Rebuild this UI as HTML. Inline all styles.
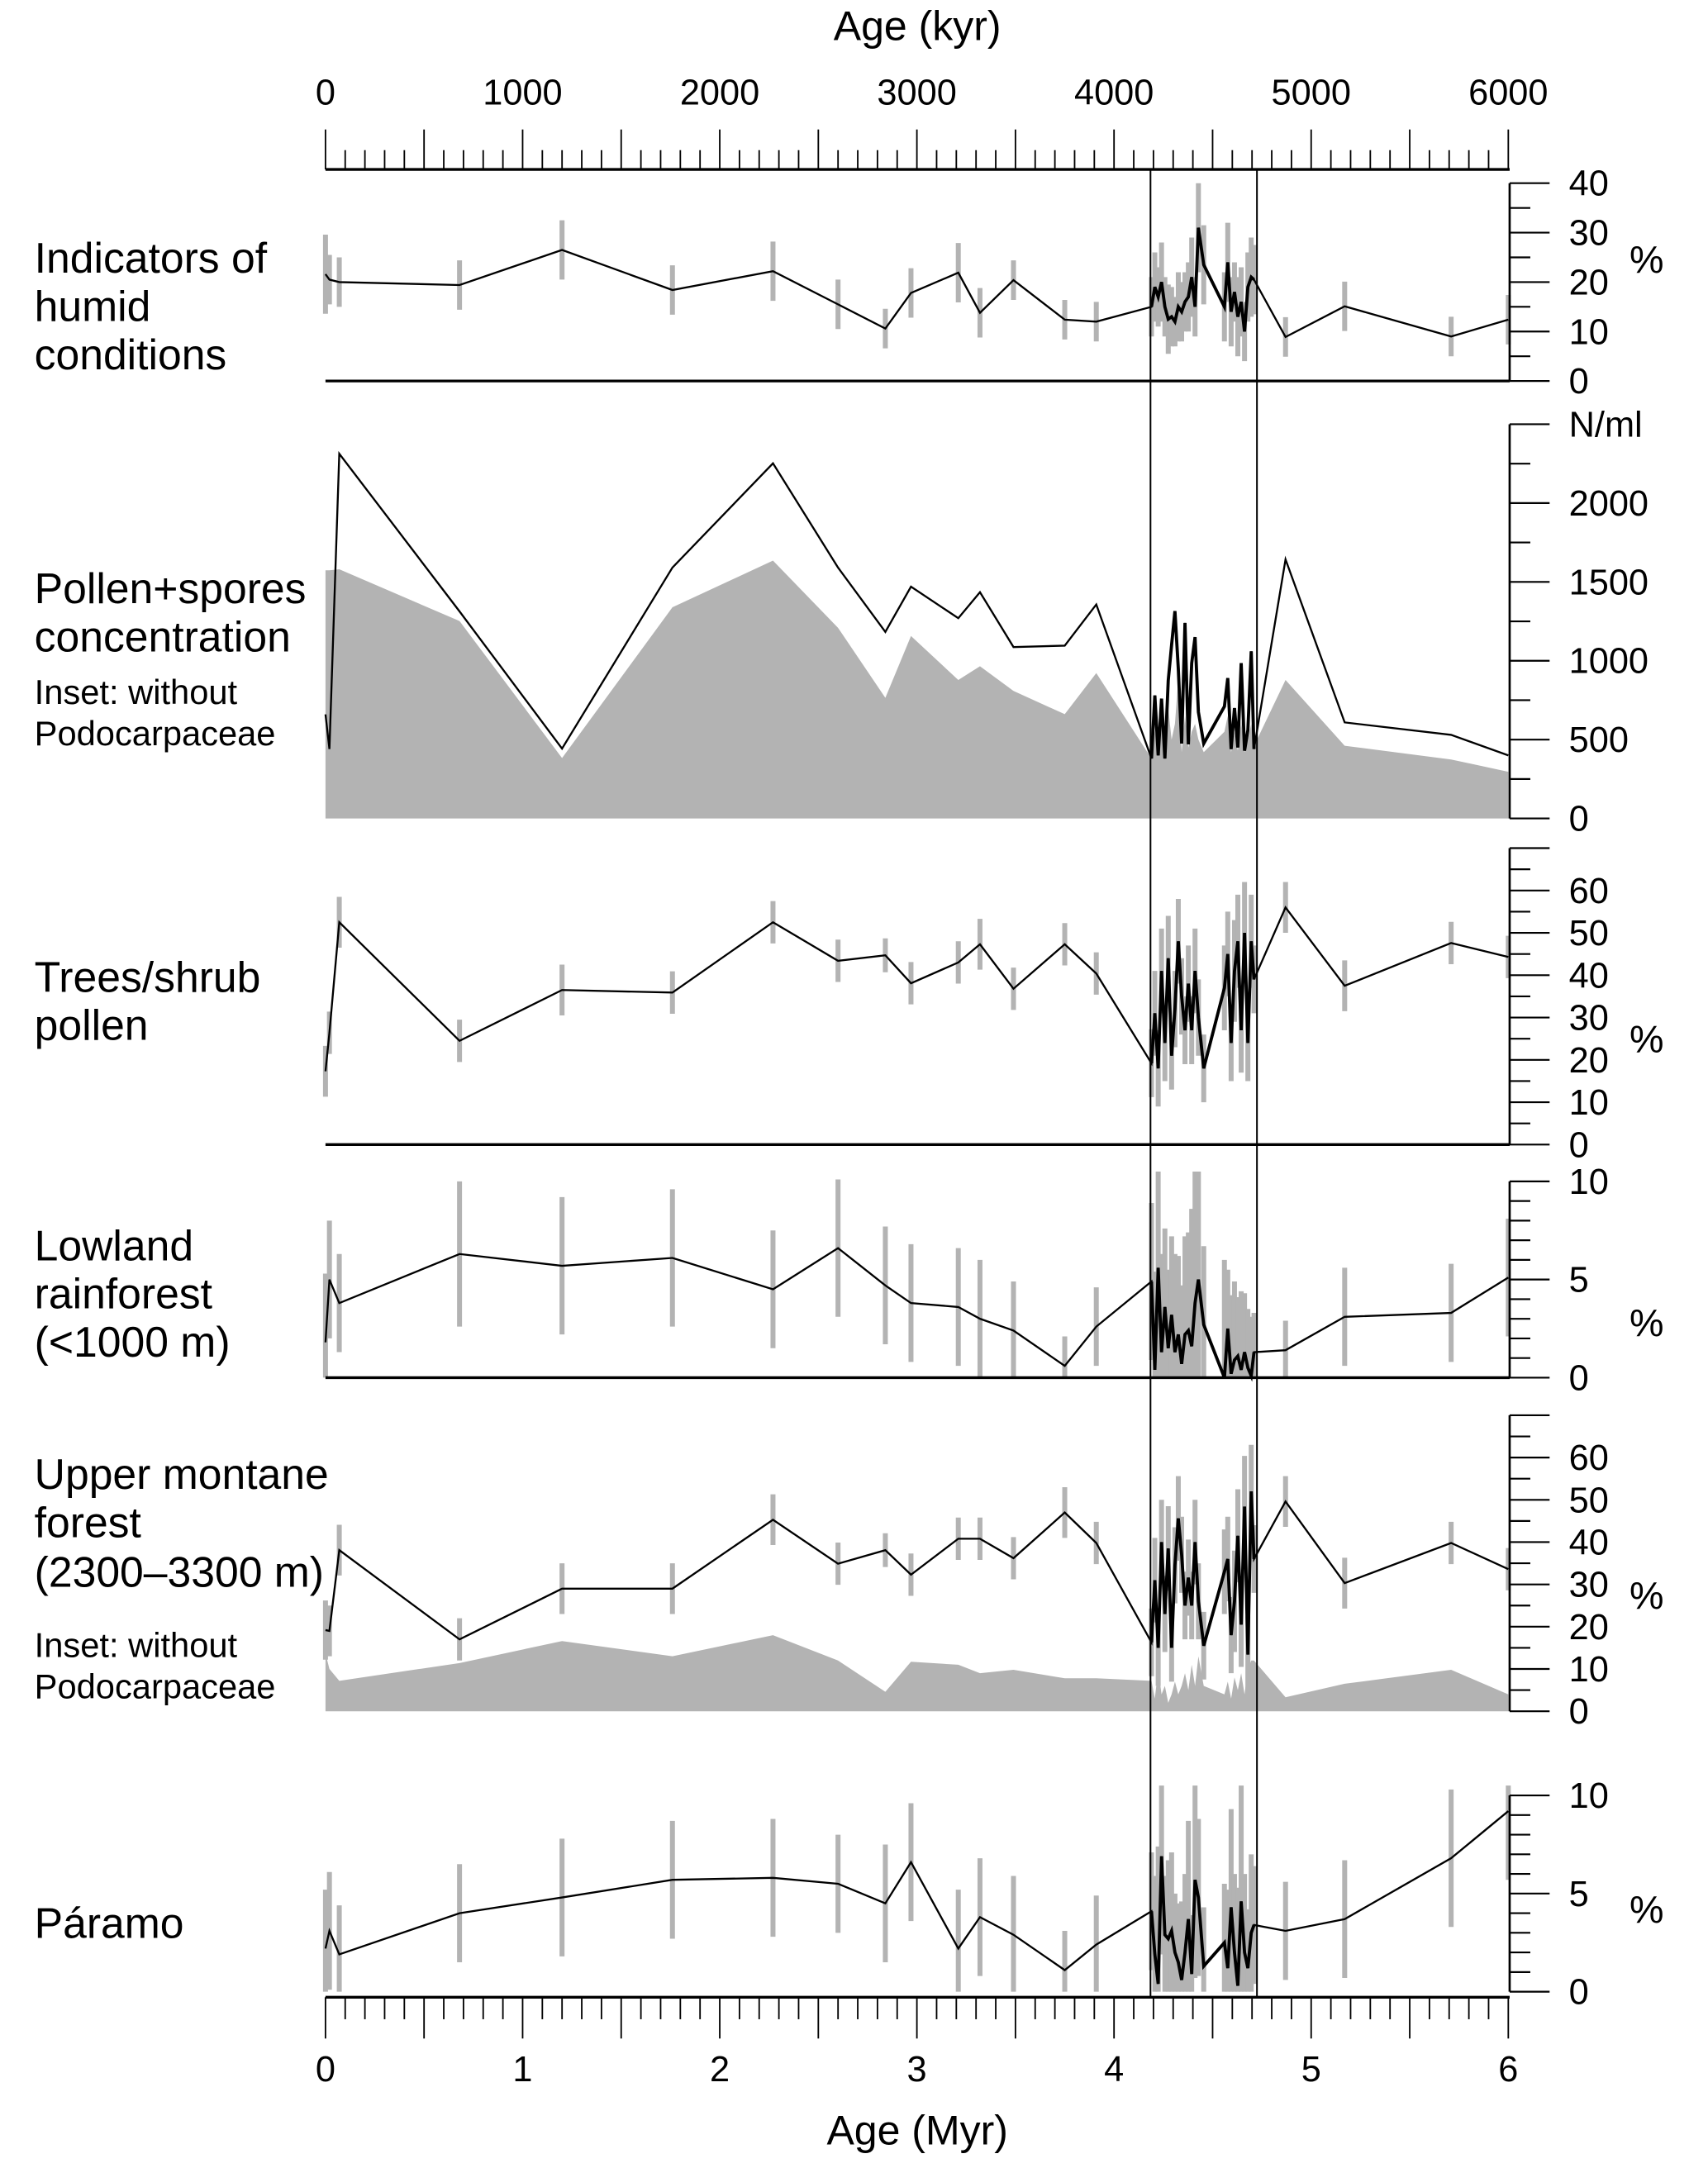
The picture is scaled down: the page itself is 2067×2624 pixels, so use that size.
<!DOCTYPE html>
<html><head><meta charset="utf-8"><title>Pollen record chart</title>
<style>
html,body{margin:0;padding:0;background:#fff;}
svg{display:block;}
text{font-family:"Liberation Sans",Arial,sans-serif;fill:#000;}
</style></head>
<body>
<svg id="chart" xmlns="http://www.w3.org/2000/svg" width="2067" height="2624" viewBox="0 0 1240 1574" preserveAspectRatio="none">
<rect x="0" y="0" width="1240" height="1574" fill="#fff"/>
<text x="666" y="29" font-size="30" text-anchor="middle">Age (kyr)</text>
<text x="666" y="1557" font-size="30" text-anchor="middle">Age (Myr)</text>
<g font-size="31">
<text x="25" y="198">Indicators of</text>
<text x="25" y="233">humid</text>
<text x="25" y="268">conditions</text>
<text x="25" y="438">Pollen+spores</text>
<text x="25" y="473">concentration</text>
<text x="25" y="511" font-size="25">Inset: without</text>
<text x="25" y="541" font-size="25">Podocarpaceae</text>
<text x="25" y="720">Trees/shrub</text>
<text x="25" y="755">pollen</text>
<text x="25" y="915">Lowland</text>
<text x="25" y="950">rainforest</text>
<text x="25" y="985">(&lt;1000 m)</text>
<text x="25" y="1081">Upper montane</text>
<text x="25" y="1116">forest</text>
<text x="25" y="1152">(2300–3300 m)</text>
<text x="25" y="1203" font-size="25">Inset: without</text>
<text x="25" y="1233" font-size="25">Podocarpaceae</text>
<text x="25" y="1407">Páramo</text>
</g>
<g font-size="28">
<text x="1183" y="198">%</text>
<text x="1183" y="764">%</text>
<text x="1183" y="970">%</text>
<text x="1183" y="1168">%</text>
<text x="1183" y="1396">%</text>
</g>
</svg>
<script>
const ages=[0,0.02,0.07,0.68,1.2,1.76,2.27,2.6,2.84,2.97,3.21,3.32,3.49,3.75,3.91,
4.19,4.207,4.224,4.241,4.258,4.275,4.292,4.309,4.326,4.343,4.36,4.377,4.394,4.411,4.428,4.455,
4.56,4.577,4.594,4.611,4.628,4.645,4.662,4.679,4.696,4.71,
4.87,5.17,5.71,6.0];
const humidVals=[21.6,20.5,20,19.4,26.5,18.4,22.2,15.5,10.6,17.8,21.9,13.8,20.4,12.4,12,
15,19,17,20,15,12.5,13,12,15,14,16,17,21,15,31,23.5,
15,24,14,18,13,16,10,19,21,20.5,
8.9,15.1,9,12.4];
const humidErr=[8,5,5,5,6,5,6,5,4,5,6,5,4,4,4,
6,7,6,8,6,7,6,5,7,6,6,7,8,6,9,8,
7,8,7,6,8,7,6,7,8,7,
4,5,4,5];
const pollenVals=[660,440,2313,1313,443,1591,2252,1591,1183,1470,1270,1435,1087,1096,1357,
380,780,400,760,380,875,1100,1315,950,475,1240,470,985,1150,675,475,
710,890,440,700,450,985,430,560,1060,440,
1643,609,530,400];
const pollenInset=[1574,1574,1580,1252,383,1339,1635,1209,765,1157,878,965,809,661,922,
380,560,420,600,400,700,500,600,880,420,650,450,550,600,500,420,
550,650,420,550,430,620,420,500,600,460,
878,461,374,296];
const treesVals=[17.3,26.4,52.5,24.5,36.5,35.9,52.5,43.4,44.7,38.1,43,47.3,36.8,47.3,40.4,
19.2,31,18,41,24,44,21,32,48,35,27,38,27,41,30,18,
37,45,24,41,48,27,50,24,48,39,
56,37.5,47.6,44.3];
const treesErr=[6,5,6,5,6,5,5,5,4,5,5,6,5,5,5,
8,10,9,10,9,10,8,9,10,9,8,9,8,10,9,8,
10,10,9,12,11,10,12,9,11,8,
6,6,5,5];
const lowlandVals=[1.8,5.0,3.8,6.3,5.7,6.1,4.5,6.6,4.7,3.8,3.6,3.0,2.4,0.6,2.6,
4.9,0.4,5.6,1.3,3.6,1.5,3.2,1.3,2.2,0.7,2.2,2.4,1.6,3.8,5.0,2.7,
0,2.5,0.2,0.9,1.1,0.4,1.3,0.5,0.1,1.3,
1.4,3.1,3.3,5.1];
const lowlandErr=[3.5,3,2.5,3.7,3.5,3.5,3,3.5,3,3,3,3,2.5,1.5,2,
4,5,6,5,4,4,4,5,4,4,5,5,7,7,6,4,
6,3,4,4,3,4,3,3,3,2,
1.5,2.5,2.5,3];
const montaneVals=[19.2,19,38.1,17,29,29,45.3,34.9,38.1,32.3,40.8,40.8,36.2,47,39.8,
16.3,31,15,40,23,38.5,15,34.5,45.6,37,25,31.6,25,40,26,15.5,
33,36,18,26,41.5,20.5,48.4,13.4,52,36,
49.6,30.3,39.8,33.6];
const montaneErr=[7,6,6,5,6,6,6,5,4,5,5,5,5,6,5,
8,10,9,10,9,10,8,9,10,9,8,9,8,10,9,8,
10,10,9,12,11,10,12,9,11,8,
6,6,5,5];
const montaneInset=[13.7,10,7.2,11.4,16.6,13,18,12,4.6,11.7,11,9,9.8,7.8,7.8,
7.2,3,10,4,6,2,4,7,4,6,9,5,11,6,13,6,
4,7,3,8,5,9,4,10,12,12,
3.3,6.5,9.8,4];
const paramoVals=[2.2,3.1,1.9,4.0,4.8,5.7,5.8,5.5,4.5,6.6,2.2,3.8,2.9,1.1,2.4,
4.1,1.9,0.4,6.9,2.9,2.7,3.1,2.0,1.5,0.6,2.0,3.7,0.9,5.7,4.8,1.3,
2.5,1.2,4.3,2.0,0.3,4.6,2.0,1.2,3.0,3.4,
3.1,3.7,6.8,9.2];
const paramoErr=[3,3,2.5,2.5,3,3,3,2.5,3,3,3,3,3,2,2.5,
3,4,7,5,3,4,4,3,3,4,4,5,3,5,4,3,
3,4,5,4,5,6,4,3,4,3,
2.5,3,3.5,3.5];
const kyrTickLabels=["0","1000","2000","3000","4000","5000","6000"];
const myrTickLabels=["0","1","2","3","4","5","6"];
const boxAges=[4.185,4.725];

const NS="http://www.w3.org/2000/svg";
const svg=document.getElementById('chart');
const X0=236.3, XS=143.12, XR=1096;
function x(a){return X0+a*XS;}
function mk(tag,attrs,parent){const e=document.createElementNS(NS,tag);for(const k in attrs)e.setAttribute(k,attrs[k]);(parent||svg).appendChild(e);return e;}
const GRAY="#b3b3b3";

function drawPanel(name,cfg,vals,errs,inset){
  const g=mk('g',{});
  
  
  const y=v=>cfg.y0-v*cfg.ppu;
  if(inset){
    let d='M'+x(ages[0])+','+cfg.y0;
    for(let i=0;i<ages.length;i++) d+=' L'+x(ages[i]).toFixed(2)+','+y(inset[i]).toFixed(2);
    d+=' L'+x(ages[ages.length-1])+','+cfg.y0+' Z';
    const p=mk('path',{d:d,fill:GRAY,stroke:'none'},g);
    
    
  }
  if(errs){
    for(let i=0;i<ages.length;i++){
      const lo=Math.max(0,vals[i]-errs[i]), hi=Math.min(cfg.top*1.05,vals[i]+errs[i]);
      const b=mk('line',{x1:x(ages[i]),x2:x(ages[i]),y1:y(lo),y2:y(hi),stroke:GRAY,'stroke-width':3.6},g);
      
      
    }
  }
  const pts=ages.map((a,i)=>x(a).toFixed(2)+','+y(vals[i]).toFixed(2)).join(' ');
  const ln=mk('polyline',{points:pts,fill:'none',stroke:'#000','stroke-width':1.4,'stroke-linejoin':'miter'},g);
  
  
  const dpts=ages.slice(15,41).map((a,i)=>x(a).toFixed(2)+','+y(vals[i+15]).toFixed(2)).join(' ');
  const dl=mk('polyline',{points:dpts,fill:'none',stroke:'#000','stroke-width':2.3},g);
  
  
  const ax=mk('line',{x1:XR,x2:XR,y1:y(cfg.top),y2:cfg.y0,stroke:'#000','stroke-width':1.6},g);
  
  
  for(let v=0;v<=cfg.top+1e-9;v+=cfg.minor){
    const major=Math.abs(v/cfg.major-Math.round(v/cfg.major))<1e-6;
    const t=mk('line',{x1:XR,x2:XR+(major?29:15),y1:y(v),y2:y(v),stroke:'#000','stroke-width':1.3},g);
    
    
  }
  for(const lab of cfg.labels){
    const t=mk('text',{x:1139,y:y(lab.v)+9,'font-size':26},g);
    t.textContent=lab.t;
    
    
  }
  if(cfg.baseline){
    const bl=mk('line',{x1:X0,x2:XR,y1:cfg.y0,y2:cfg.y0,stroke:'#000','stroke-width':2},g);
    
    
  }
}
function labs(list){return list.map(v=>({v:v,t:String(v)}));}

drawPanel('humid',{y0:276.6,ppu:3.59,top:40,major:10,minor:5,labels:labs([0,10,20,30,40]),baseline:true},humidVals,humidErr,null);
drawPanel('pollen',{y0:594.2,ppu:0.11448,top:2500,major:500,minor:250,labels:labs([0,500,1000,1500,2000]).concat([{v:2500,t:'N/ml'}]),baseline:false},pollenVals,null,pollenInset);
drawPanel('trees',{y0:831,ppu:3.075,top:70,major:10,minor:5,labels:labs([0,10,20,30,40,50,60]),baseline:true},treesVals,treesErr,null);
drawPanel('lowland',{y0:1000.2,ppu:14.25,top:10,major:5,minor:1,labels:labs([0,5,10]),baseline:true},lowlandVals,lowlandErr,null);
drawPanel('montane',{y0:1242.4,ppu:3.07,top:70,major:10,minor:5,labels:labs([0,10,20,30,40,50,60]),baseline:false},montaneVals,montaneErr,montaneInset);
drawPanel('paramo',{y0:1446,ppu:14.25,top:10,major:5,minor:1,labels:labs([0,5,10]),baseline:false},paramoVals,paramoErr,null);

const topAx=mk('line',{x1:X0,x2:XR,y1:123,y2:123,stroke:'#000','stroke-width':2});


const botAx=mk('line',{x1:X0,x2:XR,y1:1450,y2:1450,stroke:'#000','stroke-width':2});


for(let k=0;k<=60;k++){
  const a=k/10, major=(k%5===0);
  const t1=mk('line',{x1:x(a),x2:x(a),y1:123,y2:major?94:109,stroke:'#000','stroke-width':1.1});
  
  
  const t2=mk('line',{x1:x(a),x2:x(a),y1:1450,y2:major?1480:1466,stroke:'#000','stroke-width':1.1});
  
  
}
kyrTickLabels.forEach((s,i)=>{
  const t=mk('text',{x:x(i),y:76,'font-size':26,'text-anchor':'middle'});
  t.textContent=s;
  
  
});
myrTickLabels.forEach((s,i)=>{
  const t=mk('text',{x:x(i),y:1511,'font-size':26,'text-anchor':'middle'});
  t.textContent=s;
  
  
});
boxAges.forEach(a=>{
  const l=mk('line',{x1:x(a),x2:x(a),y1:123,y2:1450,stroke:'#000','stroke-width':1.2});
  
  
});
</script>
</body></html>
